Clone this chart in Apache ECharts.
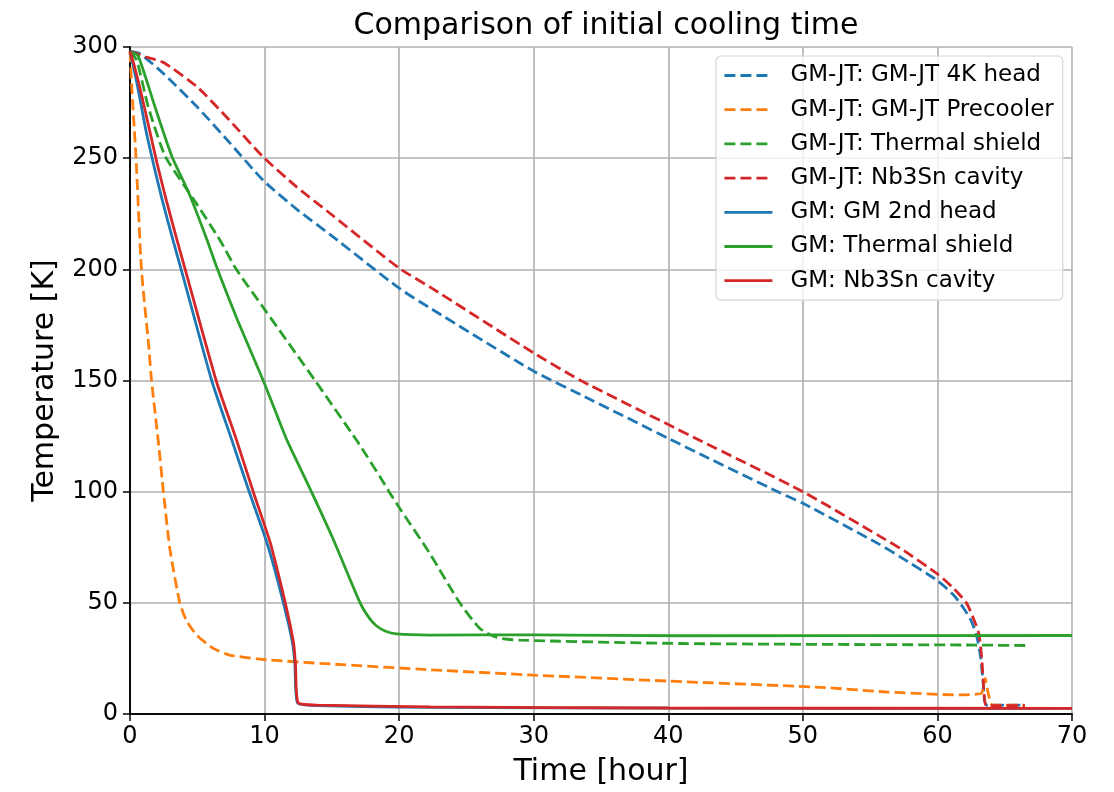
<!DOCTYPE html>
<html>
<head>
<meta charset="utf-8">
<script src="https://cdn.jsdelivr.net/npm/echarts@6/dist/echarts.min.js"></script>
<style>
html,body{margin:0;padding:0;background:#fff;}
#chart{width:1114px;height:792px;}
</style>
</head>
<body>
<div id="chart"></div>
<script>
// ---- data (time [hour], temperature [K]) ----
const titleText = 'Comparison of initial cooling time';
const xTicks = [0, 10, 20, 30, 40, 50, 60, 70];
const yTicks = [0, 50, 100, 150, 200, 250, 300];

const jt4KHead = [[0,298],[0.74,297],[2.5,288],[5,273],[7.4,257],[9.9,240],[12.4,227],[14.9,215.5],[20,191.5],[22.3,182.6],[30,154.2],[34.2,141.5],[40,124],[42.4,116.8],[48.3,99.5],[50,94.8],[55.7,76.3],[57.2,70.8],[60,60],[61.2,53.5],[61.9,48],[62.5,42],[62.9,35.5],[63.2,26],[63.4,14],[63.66,4],[66.5,4]];
const jtPrecooler = [[0,298],[0.15,280],[0.45,250],[0.85,200],[1.4,165],[1.6,150],[2.15,120],[2.48,100],[2.97,74],[3.7,50],[4.2,42],[4.95,35.5],[6.2,29.5],[7.4,26.5],[10.15,24.4],[14.9,22.5],[22.3,19.9],[30,17.5],[40,14.8],[51.3,12],[56.2,9.9],[61.7,8.6],[62.9,8.9],[63.3,9.5],[63.55,16],[63.75,10],[64.1,4],[66.5,4]];
const jtShield = [[0,298],[0.5,294],[1.36,273],[2.6,251],[4.0,238],[5.0,229],[6.7,213],[7.9,200],[10,182],[13.75,150],[16.85,123],[17.6,116],[18.6,106.5],[19.3,99.5],[20.1,92],[22.3,72],[24.5,50],[26,38.5],[27.25,34.4],[29,33.2],[40.9,31.7],[63,31],[66.6,30.8]];
const jtCavity = [[0,298],[0.5,297],[1.2,295.5],[2.5,293],[5,282],[7.4,267],[9.9,250.5],[12.4,237],[14.9,225],[20,200.5],[22.3,192],[30,162.4],[33.5,150],[40,130.2],[42.4,122.9],[50,100],[55.7,80],[57.5,73.5],[60,63],[61.2,56.5],[62.2,49.5],[63.05,36.7],[63.3,24.7],[63.46,9.7],[63.66,3.7],[66.5,3.7]];
const gm2ndHead = [[0,298],[0.3,290],[0.7,278],[1.2,262],[1.8,246],[2.4,231],[3.2,213],[3.8,200],[6.07,150],[7.55,123.5],[8.8,101],[10.15,77.5],[10.8,64],[11.4,50],[11.8,40],[12.1,31],[12.25,23],[12.45,5],[14,3.8],[22.3,3],[40,2.6],[70,2.5]];
const gmShield = [[0,298],[0.6,296],[1.86,273],[3.1,251],[4.4,234],[5.74,213],[6.44,201],[8,177],[9.9,150],[11.6,124],[12.3,115],[13.4,101],[15.1,78.6],[17.1,50],[17.8,43],[18.3,39.7],[19.0,37.2],[19.8,36],[22.3,35.5],[30,35.6],[41,35.2],[70,35.3]];
const gmCavity = [[0,298],[0.3,292],[0.8,280],[1.4,264],[2.0,248],[2.7,231],[3.5,213],[4.1,200],[6.4,150],[7.9,123.5],[9.1,101],[10.4,77.5],[11.0,63.5],[11.5,51],[11.9,40],[12.18,31],[12.3,22],[12.5,5],[14,4],[22.3,3.2],[40,2.7],[70,2.5]];

const names = ['GM-JT: GM-JT 4K head','GM-JT: GM-JT Precooler','GM-JT: Thermal shield','GM-JT: Nb3Sn cavity','GM: GM 2nd head','GM: Thermal shield','GM: Nb3Sn cavity'];
const datasets = [jt4KHead, jtPrecooler, jtShield, jtCavity, gm2ndHead, gmShield, gmCavity];
const colors = ['#1f77b4','#ff7f0e','#2ca02c','#d62728','#1f77b4','#2ca02c','#d62728'];
const dashed = [true,true,true,true,false,false,false];

const series = datasets.map((d, i) => ({
  name: names[i],
  type: 'line',
  data: d,
  xAxisIndex: 0,
  yAxisIndex: 0,
  showSymbol: false,
  symbol: 'none',
  smooth: 0.2,
  animation: false,
  lineStyle: { color: colors[i], width: 2.8, type: dashed[i] ? [11, 5] : 'solid', cap: 'butt' },
  itemStyle: { color: colors[i] },
  z: 2 + i
}));

const font = 'DejaVu Sans';
const frameAxis = {
  type: 'value',
  axisLine: { show: true, lineStyle: { color: '#000', width: 1.5 } },
  axisTick: { show: false }, axisLabel: { show: false }, splitLine: { show: false }
};

const chart = echarts.init(document.getElementById('chart'), null, { renderer: 'canvas' });
chart.setOption({
  backgroundColor: '#fff',
  animation: false,
  title: {
    text: titleText, left: 601, top: 6, textAlign: 'center',
    textStyle: { fontFamily: font, fontSize: 30, fontWeight: 'normal', color: '#000' }
  },
  grid: { left: 130, right: 42, top: 47, bottom: 77 },
  legend: {
    data: names, orient: 'vertical', left: 716, top: 56,
    itemWidth: 48, itemHeight: 14, itemGap: 11.2,
    padding: [8, 9, 8, 7],
    backgroundColor: 'rgba(255,255,255,0.8)', borderColor: '#d6d6d6', borderWidth: 1.2, borderRadius: 5,
    itemStyle: { opacity: 0, borderWidth: 0 },
    lineStyle: { width: 2.8 },
    textStyle: { fontFamily: font, fontSize: 23, lineHeight: 23, color: '#000', padding: [0, 0, 0, 13] }
  },
  xAxis: [{
    type: 'value', min: 0, max: 70, interval: 10,
    name: 'Time [hour]', nameLocation: 'middle', nameGap: 43,
    nameTextStyle: { fontFamily: font, fontSize: 30, color: '#000' },
    axisLine: { show: true, onZero: false, lineStyle: { color: '#000', width: 1.5 } },
    axisTick: { show: true, inside: false, length: 7, lineStyle: { color: '#000', width: 1.5 } },
    axisLabel: { fontFamily: font, fontSize: 24, color: '#000', margin: 11, formatter: v => xTicks.includes(v) ? String(v) : '' },
    splitLine: { show: true, lineStyle: { color: '#b0b0b0', width: 1.6 } }
  }, Object.assign({ position: 'top', min: 0, max: 70 }, frameAxis)],
  yAxis: [{
    type: 'value', min: 0, max: 300, interval: 50,
    name: 'Temperature [K]', nameLocation: 'middle', nameGap: 70, nameRotate: 90,
    nameTextStyle: { fontFamily: font, fontSize: 30, color: '#000' },
    axisLine: { show: true, onZero: false, lineStyle: { color: '#000', width: 1.5 } },
    axisTick: { show: true, inside: false, length: 7, lineStyle: { color: '#000', width: 1.5 } },
    axisLabel: { fontFamily: font, fontSize: 24, color: '#000', margin: 12, formatter: v => yTicks.includes(v) ? String(v) : '' },
    splitLine: { show: true, lineStyle: { color: '#b0b0b0', width: 1.6 } }
  }, Object.assign({ position: 'right', min: 0, max: 300 }, frameAxis)],
  series: series
});
</script>
</body>
</html>
